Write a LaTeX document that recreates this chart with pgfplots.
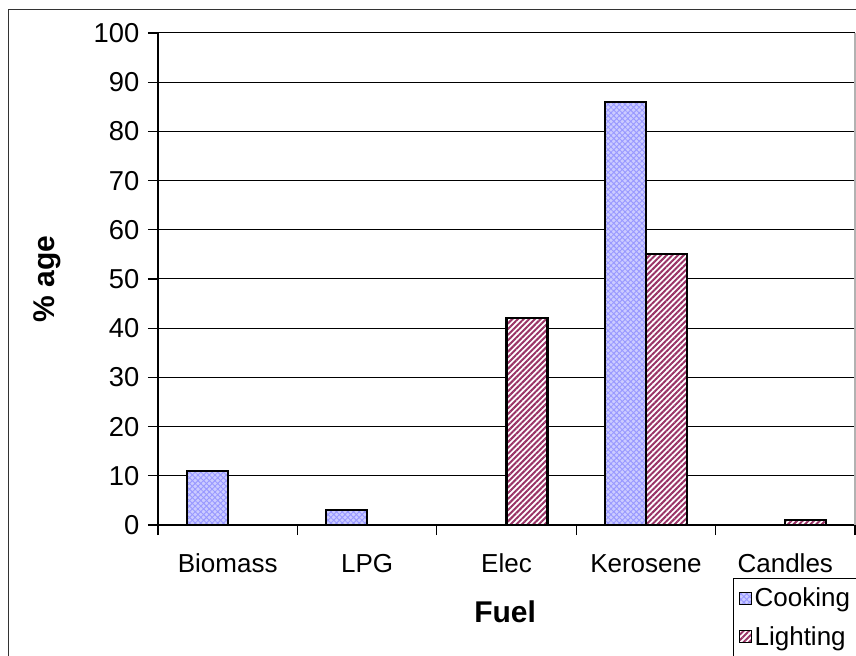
\documentclass[border=0pt]{standalone}
\usepackage{fontspec}
\setmainfont{Liberation Sans}
\usepackage{pgfplots}
\pgfplotsset{compat=1.18}
\usetikzlibrary{patterns.meta}
\definecolor{cookfill}{HTML}{CCCCFF}
\definecolor{cookhatch}{HTML}{9999FF}
\definecolor{lightstripe}{HTML}{993366}
\begin{document}
\begin{tikzpicture}
\useasboundingbox (0pt,0pt) rectangle (642pt,492pt);
\draw[line width=1.1pt, black!80] (6.4pt,-5pt) -- (6.4pt,484.9pt) -- (650pt,484.9pt);
\begin{axis}[
  at={(118.5pt,98.25pt)}, anchor=south west,
  scale only axis, width=522.75pt, height=369pt,
  font=\fontsize{19.5}{23}\selectfont,
  /pgf/number format/assume math mode=true,
  ybar=0pt, bar width=30.75pt,
  xmin=-0.5, xmax=4.5, ymin=0, ymax=100,
  ytick={0,10,...,100},
  xtick={0,1,2,3,4},
  xticklabels={Biomass,LPG,Elec,Kerosene,Candles},
  minor xtick={-0.5,0.5,1.5,2.5,3.5,4.5},
  axis x line*=bottom, axis y line*=left,
  axis line style={black, line width=0.8pt},
  tick align=outside,
  major x tick style={draw=none},
  minor x tick style={black, line width=0.8pt},
  minor tick length=7.5pt,
  major tick length=7.5pt,
  y tick style={black, line width=0.8pt},
  ymajorgrids, grid style={black, line width=0.75pt},
  yticklabel style={xshift=-3pt, font=\fontsize{20.5}{24}\selectfont},
  xticklabel style={yshift=-11pt, anchor=north, text height=13.5pt, text depth=3pt},
  ylabel={\textbf{\% age}},
  ylabel style={at={(axis description cs:-0.159,0.5)}, anchor=center, font=\fontsize{22.5}{26}\selectfont},
  xlabel={\textbf{Fuel}},
  xlabel style={at={(axis description cs:0.498,-0.177)}, anchor=center, font=\fontsize{22.5}{26}\selectfont},
  legend style={at={(axis description cs:0.825,-0.108)}, anchor=north west,
    draw=black, line width=0.8pt, fill=white, font=\fontsize{19.5}{23}\selectfont,
    row sep=9pt, inner xsep=4pt, inner ysep=5pt, cells={anchor=west}},
  legend image code/.code={\draw[#1, line width=0.8pt] (1pt,-4.5pt) rectangle (10pt,4.5pt);},
  clip=false,
]
\addplot[draw=black, line width=1.6pt, fill=cookfill,
  postaction={pattern={Hatch[angle=45,distance=3pt,line width=0.7pt]}, pattern color=cookhatch}]
  coordinates {(0,11) (1,3) (3,86)};
\addplot[draw=black, line width=1.6pt, fill=white,
  postaction={pattern={Lines[angle=45,distance=3pt,line width=1.5pt]}, pattern color=lightstripe}]
  coordinates {(2,42) (3,55) (4,1)};
\legend{Cooking,Lighting}
\draw[gray!60, line width=0.8pt] (rel axis cs:1,0) -- (rel axis cs:1,1);
\end{axis}
\end{tikzpicture}
\end{document}
